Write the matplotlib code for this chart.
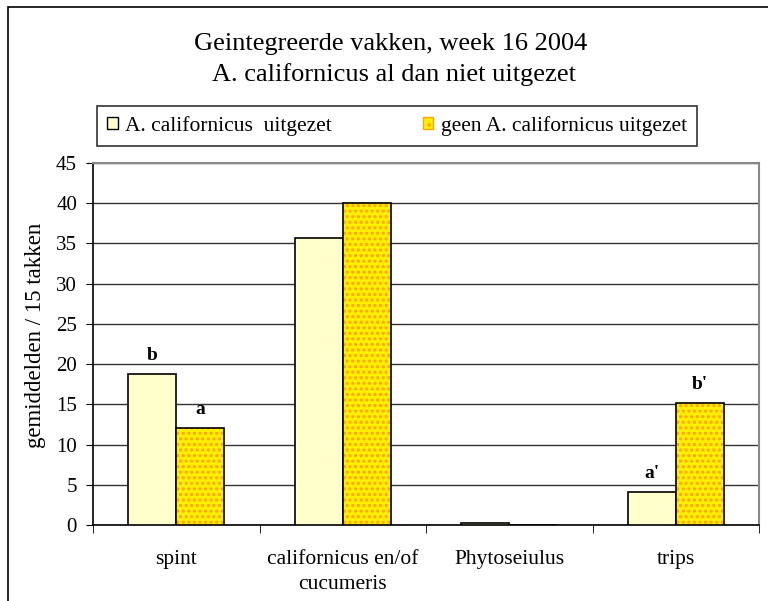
import matplotlib.pyplot as plt
import matplotlib.patches as mpatches
import numpy as np

plt.rcParams['font.family'] = ['Liberation Serif', 'DejaVu Serif']
plt.rcParams['hatch.linewidth'] = 1.5

categories = ['spint', 'californicus en/of\ncucumeris', 'Phytoseiulus', 'trips']
uitgezet = [18.8, 35.7, 0.3, 4.1]
geen = [12.1, 40.0, 0.0, 15.2]
letters_uit = ['b', '', '', "a'"]
letters_geen = ['a', '', '', "b'"]
series_names = ['A. californicus  uitgezet', 'geen A. californicus uitgezet']

licht = '#FFFFCC'
geel = '#FFF000'
stip = '#FFA500'

fig = plt.figure(figsize=(7.68, 6.01), dpi=100)
ax = fig.add_axes([93 / 768, 76 / 601, 666 / 768, 362 / 601])

x = np.arange(len(categories))
w = 0.288
ax.bar(x - w / 2, uitgezet, w, color=licht, edgecolor='black', linewidth=1.2, zorder=3)
ax.bar(x + w / 2, geen, w, color=geel, edgecolor=stip, hatch='...', linewidth=0, zorder=3)
ax.bar(x + w / 2, geen, w, fill=False, edgecolor='black', linewidth=1.2, zorder=4)

for i in range(len(categories)):
    if letters_uit[i]:
        ax.text(x[i] - w / 2, uitgezet[i] + 1.2, letters_uit[i], ha='center', va='bottom',
                fontsize=14, fontweight='bold')
    if letters_geen[i]:
        ax.text(x[i] + w / 2, geen[i] + 1.2, letters_geen[i], ha='center', va='bottom',
                fontsize=14, fontweight='bold')

ax.set_xlim(-0.5, len(categories) - 0.5)
ax.set_ylim(0, 45)
ax.set_yticks(np.arange(0, 46, 5))
ax.yaxis.grid(True, color='#333333', linewidth=1)
ax.set_axisbelow(True)
ax.set_xticks(x)
ax.set_xticklabels(categories, fontsize=15.5, linespacing=1.45)
ax.tick_params(axis='x', length=0, pad=18)
ax.set_xticks(np.arange(-0.5, len(categories), 1), minor=True)
ax.tick_params(axis='x', which='minor', length=6, direction='out', color='black')
ax.tick_params(axis='y', length=5, direction='out', labelsize=15, pad=6.5)
ax.set_ylabel('gemiddelden / 15 takken', fontsize=16.5, va='center')
ax.yaxis.set_label_coords((35 - 93) / 666, (525 - 335) / 362)

for s in ['top', 'right']:
    ax.spines[s].set_color('#888888')
    ax.spines[s].set_linewidth(1.5)
ax.spines['left'].set_linewidth(1.2)
ax.spines['bottom'].set_linewidth(1.2)

fig.text(391 / 768, 1 - 44 / 601, 'Geintegreerde vakken, week 16 2004', ha='center', va='center', fontsize=19)
fig.text(394 / 768, 1 - 75 / 601, 'A. californicus al dan niet uitgezet', ha='center', va='center', fontsize=19)

h1 = mpatches.Patch(facecolor=licht, edgecolor='black')
h2 = mpatches.Patch(facecolor=geel, edgecolor=stip, hatch='..')
leg = fig.legend([h1, h2], series_names, loc='center', bbox_to_anchor=(397 / 768, 1 - 126 / 601),
                 ncol=2, fontsize=15.5, frameon=True, fancybox=False, edgecolor='black',
                 handlelength=0.5, handleheight=0.5, handletextpad=0.35,
                 columnspacing=4.2, borderpad=0.45, borderaxespad=0)
leg.get_frame().set_linewidth(1.2)

fig.patches.append(mpatches.Rectangle((8 / 768, -0.01), 1.0, 1 - 7 / 601 + 0.01,
                                      transform=fig.transFigure, fill=False,
                                      edgecolor='black', linewidth=1.2))

fig.savefig('out.png', dpi=100)
